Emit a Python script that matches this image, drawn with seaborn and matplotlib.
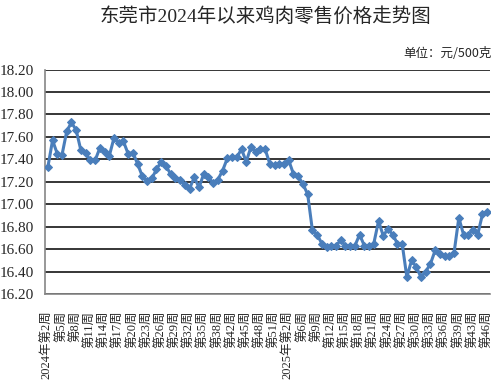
import matplotlib
matplotlib.use("Agg")
import matplotlib.pyplot as plt
import seaborn as sns
import pandas as pd

title = "东莞市2024年以来鸡肉零售价格走势图"
unit = "单位：元/500克"

weeks_2024 = [2, 3, 4, 5, 6, 7, 8, 9, 10, 11, 12, 13, 14, 15, 16, 17, 18, 19, 20,
              21, 22, 23, 24, 25, 26, 27, 28, 29, 30, 31, 32, 33, 34, 35, 36, 37,
              38, 39, 41, 42, 43, 44, 45, 46, 47, 48, 49, 50, 51, 52]
weeks_2025 = [1, 2, 3, 4, 6, 7, 8, 9, 10, 11, 12, 13, 14, 15, 16, 17, 18, 19, 20,
              21, 22, 23, 24, 25, 26, 27, 28, 29, 30, 31, 32, 33, 34, 35, 36, 37,
              38, 39, 41, 42, 43, 44, 45, 46]

prices = [17.33, 17.57, 17.45, 17.44, 17.65, 17.73, 17.66, 17.48, 17.46, 17.39,
          17.39, 17.50, 17.47, 17.43, 17.59, 17.55, 17.56, 17.45, 17.46, 17.36,
          17.25, 17.21, 17.23, 17.31, 17.38, 17.34, 17.27, 17.23, 17.22, 17.17,
          17.14, 17.24, 17.15, 17.27, 17.24, 17.19, 17.22, 17.30, 17.41, 17.42,
          17.42, 17.49, 17.38, 17.51, 17.47, 17.49, 17.49, 17.36, 17.35, 17.36,
          17.36, 17.39, 17.27, 17.25, 17.18, 17.09, 16.77, 16.73, 16.65, 16.62,
          16.63, 16.63, 16.68, 16.63, 16.63, 16.63, 16.73, 16.63, 16.63, 16.65,
          16.85, 16.72, 16.78, 16.73, 16.65, 16.65, 16.35, 16.50, 16.44, 16.35,
          16.40, 16.47, 16.59, 16.56, 16.54, 16.54, 16.57, 16.88, 16.73, 16.73,
          16.77, 16.73, 16.91, 16.93]

yticks = [16.2, 16.4, 16.6, 16.8, 17.0, 17.2, 17.4, 17.6, 17.8, 18.0, 18.2]

# category labels
labels = []
for y, weeks in ((2024, weeks_2024), (2025, weeks_2025)):
    for w in weeks:
        labels.append((y, w))
cat_text = []
seen_year = set()
for idx, (y, w) in enumerate(labels):
    cat_text.append((y, w))

df = pd.DataFrame({"idx": list(range(len(prices))), "price": prices})

sns.set_style("white")
plt.rcParams["font.family"] = ["Liberation Serif", "Noto Sans CJK SC", "DejaVu Sans"]

fig = plt.figure(figsize=(5.0, 3.91), dpi=100)
ax = fig.add_axes([0.09, 0.248, 0.89, 0.574])

for v in yticks:
    ax.axhline(v, color="black", lw=1.1, zorder=1)

sns.lineplot(data=df, x="idx", y="price", ax=ax, color="#4A7EBB", lw=2.2,
             marker="D", markersize=4.5, markeredgecolor="#4A7EBB",
             markerfacecolor="#4A7EBB", zorder=3)

ax.set_ylim(16.2, 18.2)
ax.set_yticks(yticks)
ax.set_yticklabels([f"{v:.2f}" for v in yticks], fontsize=11)
ax.set_xlim(-0.6, len(prices) - 0.4)

tick_pos = list(range(0, len(prices), 3))
tick_lab = []
prev_year = None
for p in tick_pos:
    y, w = cat_text[p]
    if y != prev_year:
        tick_lab.append(f"{y}年第{w}周")
    else:
        tick_lab.append(f"第{w}周")
    prev_year = y
ax.set_xticks(tick_pos)
ax.set_xticklabels(tick_lab, rotation=90, fontsize=9, va="top", ha="center")
ax.tick_params(axis="both", length=0)
ax.tick_params(axis="x", pad=12)
ax.tick_params(axis="y", pad=8)
ax.set_xlabel("")
ax.set_ylabel("")

for s in ["top", "right"]:
    ax.spines[s].set_visible(False)
for s in ["left", "bottom"]:
    ax.spines[s].set_color("#868686")
    ax.spines[s].set_linewidth(1.2)

fig.text(0.53, 0.957, title, ha="center", va="center", fontsize=14,
         family=["Liberation Serif", "Noto Sans CJK SC"])
fig.text(0.984, 0.864, unit, ha="right", va="center", fontsize=9,
         family=["Noto Sans CJK SC", "DejaVu Sans"])

fig.savefig("out.png", dpi=100)
